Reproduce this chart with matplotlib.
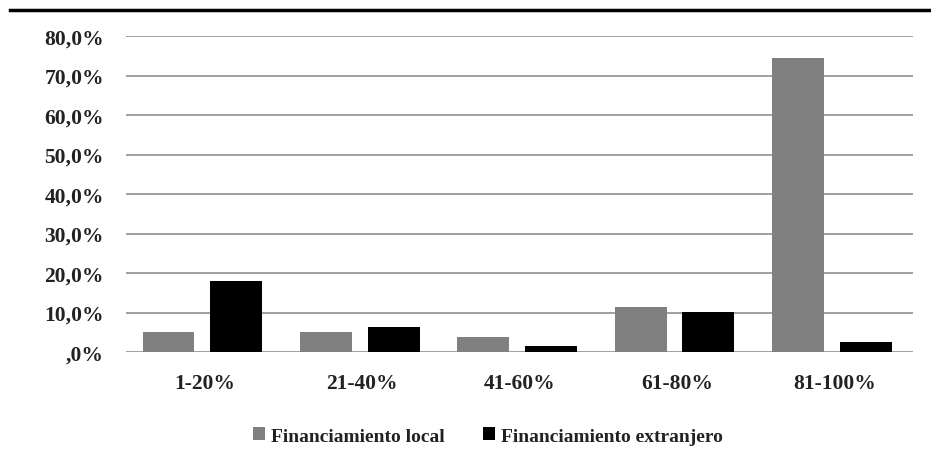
import matplotlib
matplotlib.use("Agg")
import matplotlib.pyplot as plt
import numpy as np
from matplotlib.ticker import FuncFormatter

categories = ["1-20%", "21-40%", "41-60%", "61-80%", "81-100%"]
local = [5.1, 5.1, 3.8, 11.4, 74.4]
extranjero = [18.0, 6.3, 1.5, 10.2, 2.6]
series_names = ["Financiamiento local", "Financiamiento extranjero"]
yticks = [0, 10, 20, 30, 40, 50, 60, 70, 80]

plt.rcParams['font.family'] = ['Liberation Serif', 'DejaVu Serif']
plt.rcParams['font.weight'] = 'bold'

fig = plt.figure(figsize=(9.31, 4.6), dpi=100)
ax = fig.add_axes([126/931, 1-353/460, 787/931, (353-37)/460])

x = np.arange(len(categories))
w = 0.33
ax.bar(x - 0.23, local, w, color="#808080", label=series_names[0], zorder=3)
ax.bar(x + 0.2, extranjero, w, color="#000000", label=series_names[1], zorder=3)

ax.set_xlim(-0.5, len(categories) - 0.5)
ax.set_ylim(0, 80)
ax.set_yticks(yticks)
ax.yaxis.set_major_formatter(FuncFormatter(lambda v, p: (",0%" if v == 0 else f"{int(v)},0%")))
ax.set_xticks(x)
ax.set_xticklabels(categories)
ax.grid(axis='y', color="#999999", linewidth=1.3, zorder=0)
for s in ax.spines.values():
    s.set_visible(False)
ax.tick_params(axis='both', length=0, labelsize=15.5, colors="#222222")
ax.tick_params(axis='y', pad=16)
ax.tick_params(axis='x', pad=15)
for lab in ax.get_xticklabels() + ax.get_yticklabels():
    lab.set_fontweight('bold')

fig.add_artist(plt.Line2D([10/931, 1.0], [1-11/460, 1-11/460], color="black", linewidth=2.5, transform=fig.transFigure))

leg = fig.legend(loc="center", bbox_to_anchor=(488/931, 1-437/460), ncol=2, frameon=False,
                 prop={'size': 14, 'weight': 'bold'}, handlelength=0.6, handleheight=0.6,
                 handletextpad=0.3, columnspacing=2.0, labelcolor="#222222")

fig.savefig("out.png", dpi=100)
